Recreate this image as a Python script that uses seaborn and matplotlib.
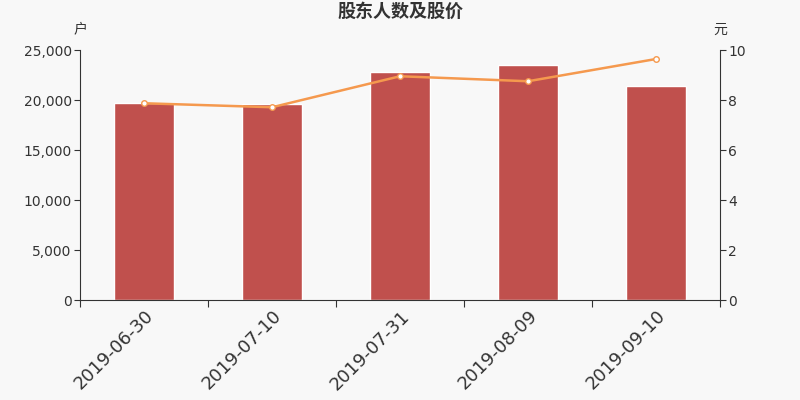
import numpy as np
import pandas as pd
import seaborn as sns
import matplotlib.pyplot as plt
from matplotlib.ticker import FuncFormatter

# dados do gráfico
datas = ['2019-06-30', '2019-07-10', '2019-07-31', '2019-08-09', '2019-09-10']
acionistas = [19700, 19600, 22770, 23470, 21370]
precos = [7.87, 7.71, 8.95, 8.75, 9.64]

dados = pd.DataFrame({'data': datas, 'acionistas': acionistas, 'preco': precos})

sns.set_theme(style='white')
plt.rcParams['font.family'] = ['DejaVu Sans', 'Noto Sans CJK SC']

fig = plt.figure(figsize=(8, 4), dpi=100, facecolor='#f8f8f8')
ax = fig.add_axes([0.1, 0.25, 0.8, 0.625])
ax.set_facecolor('#f8f8f8')

sns.barplot(x='data', y='acionistas', data=dados, color='#c0504d',
            saturation=1, width=0.47, ax=ax)
ax.set_xlim(-0.5, 4.5)
ax.set_ylim(0, 25000)
ax.set_yticks(np.arange(0, 25001, 5000))
ax.yaxis.set_major_formatter(FuncFormatter(lambda v, p: f'{int(v):,}'))
ax.set_xlabel('')
ax.set_ylabel('')

# eixo da direita com o preço
ax2 = ax.twinx()
sns.lineplot(x=np.arange(len(datas)), y=precos, ax=ax2, color='#f5994e',
             linewidth=1.8, marker='o', markersize=4,
             markerfacecolor='white', markeredgecolor='#f5994e', markeredgewidth=1)
ax2.set_ylim(0, 10)
ax2.set_yticks(np.arange(0, 11, 2))
ax2.set_ylabel('')

for a in (ax, ax2):
    for s in a.spines.values():
        s.set_visible(False)
    a.tick_params(axis='y', colors='#333333', labelsize=10, length=4, width=0.8,
                  direction='out', pad=2)
ax.spines['left'].set_visible(True)
ax.spines['bottom'].set_visible(True)
ax2.spines['right'].set_visible(True)
for s in (ax.spines['left'], ax.spines['bottom'], ax2.spines['right']):
    s.set_color('#333333')
    s.set_linewidth(0.8)
ax.tick_params(axis='y', left=True)
ax2.tick_params(axis='y', right=True)

# rótulos do eixo x
ax.set_xticks(range(len(datas)))
ax.set_xticklabels(datas, rotation=45, ha='right', rotation_mode='anchor',
                   fontsize=13, color='#333333')
ax.tick_params(axis='x', which='major', length=0, pad=5)
ax.set_xticks(np.arange(-0.5, len(datas), 1), minor=True)
ax.tick_params(axis='x', which='minor', length=5, width=0.8, color='#333333',
               direction='out', bottom=True)

ax.set_title('股东人数及股价', fontsize=13, fontweight='bold', color='#333333', pad=24)
ax.text(0.0, 1.065, '户', transform=ax.transAxes, fontsize=10, color='#333333', ha='center')
ax.text(1.0, 1.065, '元', transform=ax.transAxes, fontsize=10, color='#333333', ha='center')

fig.savefig('out.png', dpi=100, facecolor=fig.get_facecolor())
